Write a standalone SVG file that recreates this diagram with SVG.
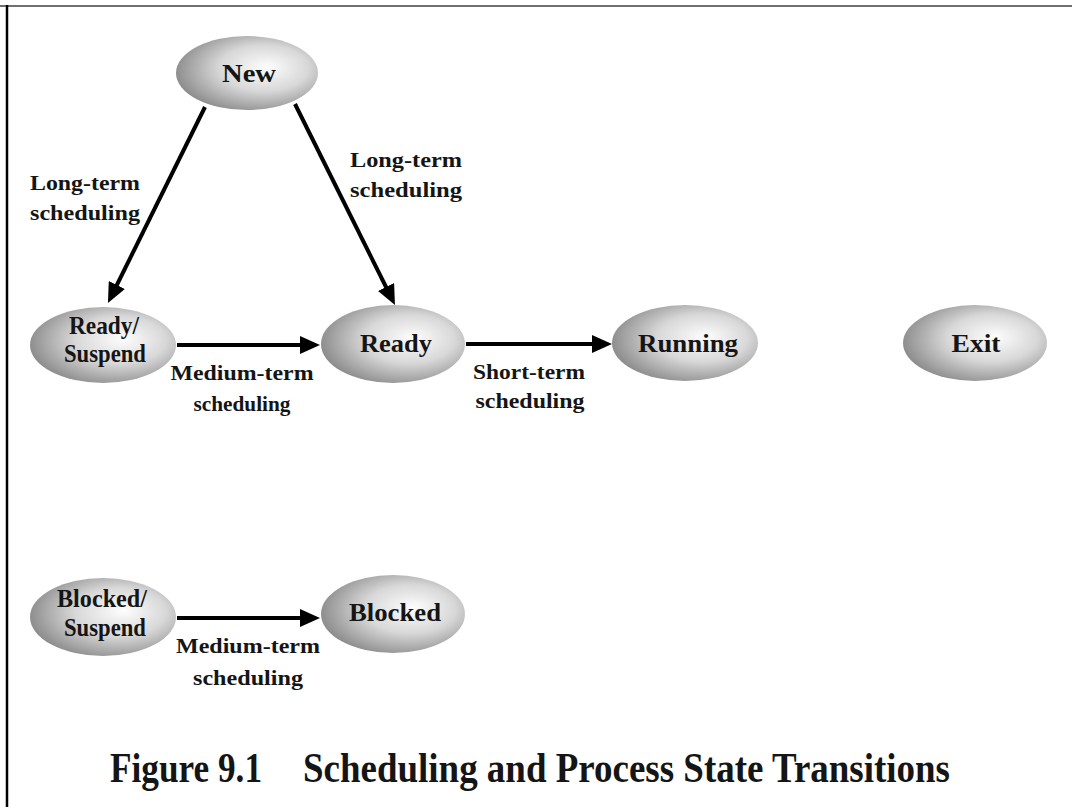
<svg xmlns="http://www.w3.org/2000/svg" width="1072" height="807" viewBox="0 0 1072 807">
<defs>
<radialGradient id="g" cx="0.6" cy="0.45" r="0.62" fx="0.64" fy="0.42">
<stop offset="0" stop-color="#fdfdfd"/>
<stop offset="0.5" stop-color="#d8d8d8"/>
<stop offset="1" stop-color="#8a8a8a"/>
</radialGradient>
<marker id="ah" viewBox="0 0 20 18" refX="10" refY="9" markerWidth="20" markerHeight="18" markerUnits="userSpaceOnUse" orient="auto">
<path d="M0,0 L20,9 L0,18 Z" fill="#000"/>
</marker>
</defs>
<style>
.n{fill:url(#g);stroke:none}
.t{font-family:"Liberation Serif","Times New Roman",serif;font-weight:bold;fill:#151515;text-anchor:middle}
.nt{font-size:25px}
.lt{font-size:21px}
.c{stroke:#000;stroke-width:4;fill:none;marker-end:url(#ah)}
</style>
<rect width="1072" height="807" fill="#fff"/>
<line x1="0" y1="6" x2="1072" y2="6" stroke="#707070" stroke-width="2"/>
<line x1="7" y1="5" x2="7" y2="807" stroke="#000" stroke-width="2.5"/>

<g id="connectors">
<line class="c" x1="205" y1="107" x2="112.4" y2="294"/>
<line class="c" x1="295" y1="104" x2="390.5" y2="296"/>
<line class="c" x1="177" y1="345" x2="310" y2="345"/>
<line class="c" x1="466" y1="344" x2="602" y2="344"/>
<line class="c" x1="177" y1="618" x2="310" y2="618"/>
</g>

<g id="labels">
<text class="t lt" x="85" y="190" textLength="110" lengthAdjust="spacingAndGlyphs">Long-term</text>
<text class="t lt" x="85" y="220" textLength="110" lengthAdjust="spacingAndGlyphs">scheduling</text>
<text class="t lt" x="406" y="167" textLength="112" lengthAdjust="spacingAndGlyphs">Long-term</text>
<text class="t lt" x="406" y="197" textLength="112" lengthAdjust="spacingAndGlyphs">scheduling</text>
<text class="t lt" x="242" y="380" textLength="143" lengthAdjust="spacingAndGlyphs">Medium-term</text>
<text class="t lt" x="242" y="411" textLength="97" lengthAdjust="spacingAndGlyphs">scheduling</text>
<text class="t lt" x="529" y="379" textLength="112" lengthAdjust="spacingAndGlyphs">Short-term</text>
<text class="t lt" x="530" y="408" textLength="109" lengthAdjust="spacingAndGlyphs">scheduling</text>
<text class="t lt" x="248" y="653" textLength="144" lengthAdjust="spacingAndGlyphs">Medium-term</text>
<text class="t lt" x="248" y="685" textLength="110" lengthAdjust="spacingAndGlyphs">scheduling</text>
</g>

<g id="node-new">
<ellipse class="n" cx="247" cy="73" rx="71" ry="37"/>
<text class="t nt" x="249" y="82" textLength="54" lengthAdjust="spacingAndGlyphs">New</text>
</g>
<g id="node-ready-suspend">
<ellipse class="n" cx="103" cy="345" rx="73" ry="38"/>
<text class="t nt" x="104" y="334" textLength="70" lengthAdjust="spacingAndGlyphs">Ready/</text>
<text class="t nt" x="105" y="362" textLength="82" lengthAdjust="spacingAndGlyphs">Suspend</text>
</g>
<g id="node-ready">
<ellipse class="n" cx="393" cy="344" rx="72" ry="39"/>
<text class="t nt" x="396" y="352" textLength="72" lengthAdjust="spacingAndGlyphs">Ready</text>
</g>
<g id="node-running">
<ellipse class="n" cx="685" cy="343" rx="73" ry="38"/>
<text class="t nt" x="688" y="352" textLength="100" lengthAdjust="spacingAndGlyphs">Running</text>
</g>
<g id="node-exit">
<ellipse class="n" cx="975" cy="343" rx="72" ry="38"/>
<text class="t nt" x="976" y="352" textLength="49" lengthAdjust="spacingAndGlyphs">Exit</text>
</g>
<g id="node-blocked-suspend">
<ellipse class="n" cx="103" cy="617" rx="73" ry="39"/>
<text class="t nt" x="102" y="607" textLength="90" lengthAdjust="spacingAndGlyphs">Blocked/</text>
<text class="t nt" x="105" y="636" textLength="82" lengthAdjust="spacingAndGlyphs">Suspend</text>
</g>
<g id="node-blocked">
<ellipse class="n" cx="393" cy="614" rx="72" ry="39"/>
<text class="t nt" x="395" y="621" textLength="92" lengthAdjust="spacingAndGlyphs">Blocked</text>
</g>

<g id="caption">
<text class="t" style="font-size:42px;text-anchor:start" x="110" y="782" textLength="152" lengthAdjust="spacingAndGlyphs">Figure 9.1</text>
<text class="t" style="font-size:42px;text-anchor:start" x="303" y="782" textLength="647" lengthAdjust="spacingAndGlyphs">Scheduling and Process State Transitions</text>
</g>
</svg>
